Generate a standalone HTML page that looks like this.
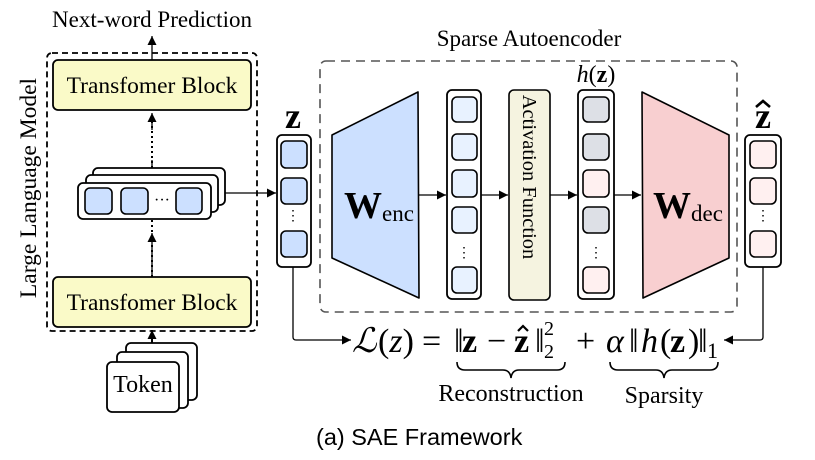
<!DOCTYPE html>
<html><head><meta charset="utf-8"><style>
html,body{margin:0;padding:0;background:#fff;}
svg{display:block;}
.s{font-family:"Liberation Serif",serif;}
</style></head><body>
<svg width="815" height="460" viewBox="0 0 815 460" xmlns="http://www.w3.org/2000/svg">
<defs>
<marker id="ah2" viewBox="0 0 10 10" refX="10" refY="5" markerWidth="12" markerHeight="9" markerUnits="userSpaceOnUse" orient="auto"><path d="M0,0 L10,5 L0,10 z" fill="#000"/></marker>
</defs>
<g fill="none" stroke="#000" stroke-width="1.3">
<!-- LLM -->
<text class="s" x="152" y="27" font-size="23" text-anchor="middle" fill="#000" stroke="none">Next-word Prediction</text>
<line x1="152" y1="60" x2="152" y2="36" marker-end="url(#ah2)"/>
<rect x="47" y="53" width="210" height="278" rx="5" stroke-dasharray="6,4" stroke-width="1.8"/>
<rect x="53" y="60" width="198" height="50" rx="5" fill="#fafac8" stroke-width="1.8"/>
<text class="s" x="152" y="93" font-size="23.5" text-anchor="middle" fill="#000" stroke="none">Transfomer Block</text>
<line x1="152" y1="168" x2="152" y2="113" stroke-dasharray="2,3" stroke-width="2"/>
<line x1="152" y1="130" x2="152" y2="113" marker-end="url(#ah2)"/>
<line x1="152" y1="160" x2="152" y2="168"/>
<rect x="93" y="168" width="132" height="37" rx="5" fill="#fff" stroke-width="1.8"/>
<rect x="86" y="175" width="132" height="37" rx="5" fill="#fff" stroke-width="1.8"/>
<rect x="78" y="183" width="133" height="36" rx="5" fill="#fff" stroke-width="1.8"/>
<rect x="85" y="188" width="27" height="26" rx="5" fill="#cce0ff" stroke-width="1.6"/>
<rect x="121" y="188" width="27" height="26" rx="5" fill="#cce0ff" stroke-width="1.6"/>
<rect x="176" y="188" width="26" height="26" rx="5" fill="#cce0ff" stroke-width="1.6"/>
<text class="s" x="162" y="205" font-size="16" text-anchor="middle" fill="#000" stroke="none">···</text>
<line x1="225" y1="193" x2="276" y2="193" marker-end="url(#ah2)"/>
<line x1="152" y1="277" x2="152" y2="219" stroke-dasharray="2,3" stroke-width="2"/>
<line x1="152" y1="262" x2="152" y2="233" marker-end="url(#ah2)"/>
<line x1="152" y1="262" x2="152" y2="277"/>
<rect x="53" y="277" width="198" height="50" rx="5" fill="#fafac8" stroke-width="1.8"/>
<text class="s" x="152" y="310" font-size="23.5" text-anchor="middle" fill="#000" stroke="none">Transfomer Block</text>
<line x1="152" y1="345" x2="152" y2="330" marker-end="url(#ah2)" stroke-width="2"/>
<rect x="126" y="343" width="71" height="57" rx="5" fill="#fff" stroke-width="1.8"/>
<rect x="117" y="352" width="71" height="56" rx="5" fill="#fff" stroke-width="1.8"/>
<rect x="107" y="362" width="72" height="50" rx="5" fill="#fff" stroke-width="1.8"/>
<text class="s" x="143" y="392" font-size="24" text-anchor="middle" fill="#000" stroke="none">Token</text>
<text class="s" x="0" y="0" font-size="23.5" text-anchor="middle" fill="#000" stroke="none" transform="translate(36,188) rotate(-90)">Large Language Model</text>

<!-- z -->
<text class="s" x="293" y="128" font-size="36" font-weight="bold" text-anchor="middle" fill="#000" stroke="none">z</text>
<rect x="277" y="135" width="34" height="132" rx="5" fill="#fff" stroke-width="1.8"/>
<rect x="281" y="141" width="26" height="27" rx="5" fill="#cce0ff" stroke-width="1.6"/>
<rect x="281" y="178" width="26" height="26" rx="5" fill="#cce0ff" stroke-width="1.6"/>
<rect x="281" y="231" width="26" height="26" rx="5" fill="#cce0ff" stroke-width="1.6"/>
<text class="s" x="293" y="220" font-size="14" text-anchor="middle" fill="#000" stroke="none">⋮</text>

<!-- SAE -->
<text class="s" x="529" y="46" font-size="23" text-anchor="middle" fill="#000" stroke="none">Sparse Autoencoder</text>
<rect x="320" y="61" width="417" height="251" rx="6" stroke="#555" stroke-dasharray="9,6" stroke-width="1.6"/>
<path d="M332,135 L418,92 L419,298 L332,258 Z" fill="#cce0ff" stroke-width="1.6" stroke-linejoin="round"/>
<text class="s" x="344" y="218" font-size="38" font-weight="bold" fill="#000" stroke="none">W<tspan font-size="23" font-weight="normal" dy="3">enc</tspan></text>
<line x1="419" y1="195" x2="446" y2="195" marker-end="url(#ah2)"/>
<rect x="447" y="90" width="34" height="209" rx="5" fill="#fff" stroke-width="1.8"/>
<g fill="#e8f2ff" stroke-width="1.6">
<rect x="452" y="97" width="25" height="25" rx="5"/><rect x="452" y="134" width="25" height="26" rx="5"/>
<rect x="452" y="170" width="25" height="27" rx="5"/><rect x="452" y="207" width="25" height="26" rx="5"/>
<rect x="452" y="267" width="25" height="26" rx="5"/></g>
<text class="s" x="464" y="257" font-size="14" text-anchor="middle" fill="#000" stroke="none">⋮</text>
<line x1="481" y1="195" x2="508" y2="195" marker-end="url(#ah2)"/>
<rect x="509" y="90" width="41" height="210" rx="5" fill="#f5f3e0" stroke-width="1.6"/>
<text class="s" x="0" y="0" font-size="20.5" text-anchor="middle" fill="#000" stroke="none" transform="translate(523,177) rotate(90)">Activation Function</text>
<line x1="550" y1="195" x2="577" y2="195" marker-end="url(#ah2)"/>
<text class="s" x="596" y="82" font-size="24" text-anchor="middle" fill="#000" stroke="none"><tspan font-style="italic">h</tspan>(<tspan font-weight="bold">z</tspan>)</text>
<rect x="578" y="90" width="36" height="209" rx="5" fill="#fff" stroke-width="1.8"/>
<g stroke-width="1.6">
<rect x="583" y="97" width="26" height="25" rx="5" fill="#dde0e6"/><rect x="583" y="134" width="26" height="26" rx="5" fill="#dde0e6"/>
<rect x="583" y="170" width="26" height="27" rx="5" fill="#fff0f0"/><rect x="583" y="207" width="26" height="26" rx="5" fill="#dde0e6"/>
<rect x="583" y="267" width="26" height="26" rx="5" fill="#fff0f0"/></g>
<text class="s" x="596" y="257" font-size="14" text-anchor="middle" fill="#000" stroke="none">⋮</text>
<line x1="614" y1="195" x2="641" y2="195" marker-end="url(#ah2)"/>
<path d="M642,92 L729,135 L729,258 L643,298 Z" fill="#f8cfd0" stroke-width="1.6" stroke-linejoin="round"/>
<text class="s" x="653" y="218" font-size="38" font-weight="bold" fill="#000" stroke="none">W<tspan font-size="23" font-weight="normal" dy="3">dec</tspan></text>

<!-- z hat -->
<text class="s" x="763" y="128" font-size="36" font-weight="bold" text-anchor="middle" fill="#000" stroke="none">z</text>
<path d="M756,107 L763,101 L770,107" stroke-width="2.6"/>
<rect x="745" y="135" width="36" height="132" rx="5" fill="#fff" stroke-width="1.8"/>
<rect x="750" y="141" width="26" height="27" rx="5" fill="#fff0f0" stroke-width="1.6"/>
<rect x="750" y="178" width="26" height="26" rx="5" fill="#fff0f0" stroke-width="1.6"/>
<rect x="750" y="231" width="26" height="26" rx="5" fill="#fff0f0" stroke-width="1.6"/>
<text class="s" x="763" y="220" font-size="14" text-anchor="middle" fill="#000" stroke="none">⋮</text>

<!-- loss -->
<path d="M293,267 L293,337 Q293,340 296,340 L351,340" marker-end="url(#ah2)"/>
<path d="M763,267 L763,337 Q763,340 760,340 L724,340" marker-end="url(#ah2)"/>
<g class="s" font-size="34" fill="#000" stroke="none">
<text x="352" y="352" font-style="italic">ℒ</text>
<text x="378" y="352">(<tspan font-style="italic">z</tspan>)</text>
<text x="422" y="352">=</text>
<text x="454" y="352">‖</text>
<text x="462" y="352" font-weight="bold">z</text>
<text x="487" y="352">−</text>
<text x="514" y="352" font-weight="bold">z</text>
<text x="535" y="352">‖</text>
<text x="544" y="335" font-size="20">2</text>
<text x="544" y="358" font-size="20">2</text>
<text x="576" y="352">+</text>
<text x="606" y="352" font-style="italic">α</text>
<text x="629" y="352">‖</text>
<text x="641" y="352" font-style="italic">h</text>
<text x="660" y="352">(</text>
<text x="670" y="352" font-weight="bold">z</text>
<text x="688" y="352">)</text>
<text x="698" y="352">‖</text>
<text x="707" y="358" font-size="22">1</text>
</g>
<path d="M518,331 L523,326 L528,331" stroke-width="2.2"/>
<path d="M457,362 Q457,370 465,370 L503,370 Q510,370 511,378 Q512,370 519,370 L557,370 Q565,370 565,362" stroke-width="1.6"/>
<path d="M610,362 Q610,370 618,370 L656,370 Q663,370 664,378 Q665,370 672,370 L710,370 Q718,370 718,362" stroke-width="1.6"/>
<text class="s" x="511" y="401" font-size="24" text-anchor="middle" fill="#000" stroke="none">Reconstruction</text>
<text class="s" x="664" y="403" font-size="24" text-anchor="middle" fill="#000" stroke="none">Sparsity</text>
<text x="316" y="445" font-family="Liberation Sans, sans-serif" font-size="23.5" fill="#000" stroke="none">(a) SAE Framework</text>
</g>
</svg>
</body></html>
